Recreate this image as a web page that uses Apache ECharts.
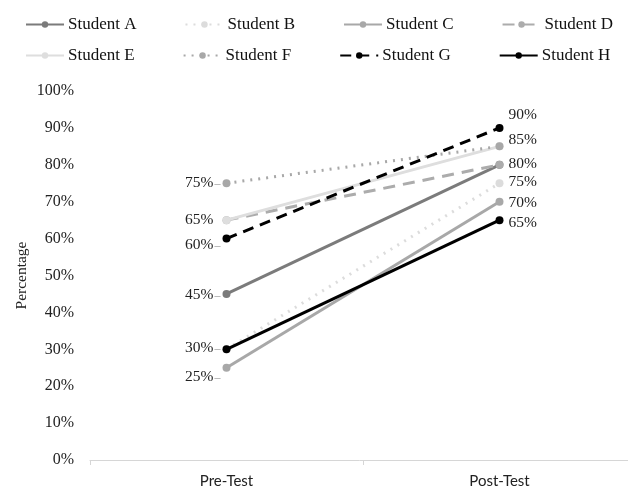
<!DOCTYPE html>
<html>
<head>
<meta charset="utf-8">
<script src="https://cdn.jsdelivr.net/npm/echarts@6/dist/echarts.min.js"></script>
<style>html,body{margin:0;padding:0;background:#fff}#c{width:628px;height:489px}</style>
</head>
<body>
<div id="c"></div>
<script>
const categories = ['Pre-Test', 'Post-Test'];
const studentNames = ['Student A','Student B','Student C','Student D','Student E','Student F','Student G','Student H'];
const studentA = [45, 80];
const studentB = [30, 75];
const studentC = [25, 70];
const studentD = [65, 80];
const studentE = [65, 85];
const studentF = [75, 85];
const studentG = [60, 90];
const studentH = [30, 65];
const yMin = 0, yMax = 100, yStep = 10;

const values = [studentA, studentB, studentC, studentD, studentE, studentF, studentG, studentH];
const styles = [
  {color:'#7b7b7b', type:'solid', width:3},
  {color:'#dcdcdc', type:[2,6], width:3},
  {color:'#a8a8a8', type:'solid', width:3},
  {color:'#acacac', type:[12,8], width:3},
  {color:'#dedede', type:'solid', width:3},
  {color:'#a8a8a8', type:[2,6], width:3},
  {color:'#000000', type:[11,7], width:3},
  {color:'#000000', type:'solid', width:3}
];
// which series shows a value label at which point (pre / post)
const labelPre = {5:{dy:0,dash:true}, 4:{dy:0,dash:false}, 6:{dy:6,dash:true}, 0:{dy:1,dash:true}, 7:{dy:-1,dash:true}, 2:{dy:9,dash:true}};
const labelPost = {6:{dy:-13}, 5:{dy:-6}, 0:{dy:-1}, 1:{dy:-1}, 2:{dy:1}, 7:{dy:3}};

const serif = 'Liberation Serif, Times New Roman, serif';
const series = values.map((vals, i) => {
  const data = vals.map((v, j) => {
    const cfg = j === 0 ? labelPre[i] : labelPost[i];
    if (!cfg) return {value: v, label: {show: false}};
    if (j === 0) {
      return {value: v, label: {
        show: true, position: 'left', distance: cfg.dash ? 2 : 9, offset: [0, cfg.dy],
        formatter: cfg.dash ? '{v|{c}%}{d|–}' : '{v|{c}%}',
        rich: {v: {fontFamily: serif, fontSize: 15.5, color: '#222'}, d: {fontFamily: serif, fontSize: 12, color: '#999', padding:[2,0,0,1]}}
      }};
    }
    return {value: v, label: {
      show: true, position: 'right', distance: 5, offset: [0, cfg.dy],
      formatter: '{c}%', fontFamily: serif, fontSize: 15.5, color: '#222'
    }};
  });
  return {
    name: studentNames[i], type: 'line', data: data,
    symbol: 'circle', symbolSize: 8,
    itemStyle: {color: styles[i].color},
    lineStyle: {color: styles[i].color, type: styles[i].type, width: styles[i].width},
    label: {show: false},
    emphasis: {disabled: true},
    z: 2 + i
  };
});

const legendCommon = {
  orient: 'horizontal', left: 25, padding: 0, itemWidth: 38, itemHeight: 8, itemGap: 48,
  textStyle: {fontFamily: serif, fontSize: 17, color: '#111', padding: [0,0,0,-1]}
};

const chart = echarts.init(document.getElementById('c'), null, {renderer: 'canvas'});
chart.setOption({
  animation: false,
  backgroundColor: '#fff',
  legend: [
    Object.assign({}, legendCommon, {top: 16, data: studentNames.slice(0, 4)}),
    Object.assign({}, legendCommon, {top: 47, data: studentNames.slice(4, 8)})
  ],
  grid: {left: 90, right: -8, top: 91, bottom: 29, containLabel: false, outerBoundsMode: 'none'},
  xAxis: {
    type: 'category', data: categories, boundaryGap: true,
    axisLine: {show: true, lineStyle: {color: '#d6d6d6', width: 1}},
    axisTick: {show: true, length: 5, lineStyle: {color: '#d6d6d6'}},
    axisLabel: {fontFamily: 'Lato, Open Sans, sans-serif', fontSize: 15, color: '#222', margin: 14}
  },
  yAxis: {
    type: 'value', min: yMin, max: yMax, interval: yStep,
    name: 'Percentage', nameLocation: 'middle', nameGap: 60, nameRotate: 90, nameMoveOverlap: false,
    nameTextStyle: {fontFamily: serif, fontSize: 15.5, color: '#222'},
    axisLine: {show: false}, axisTick: {show: false}, splitLine: {show: false},
    axisLabel: {formatter: '{value}%', fontFamily: serif, fontSize: 16, color: '#222', margin: 16}
  },
  series: series
});
</script>
</body>
</html>
